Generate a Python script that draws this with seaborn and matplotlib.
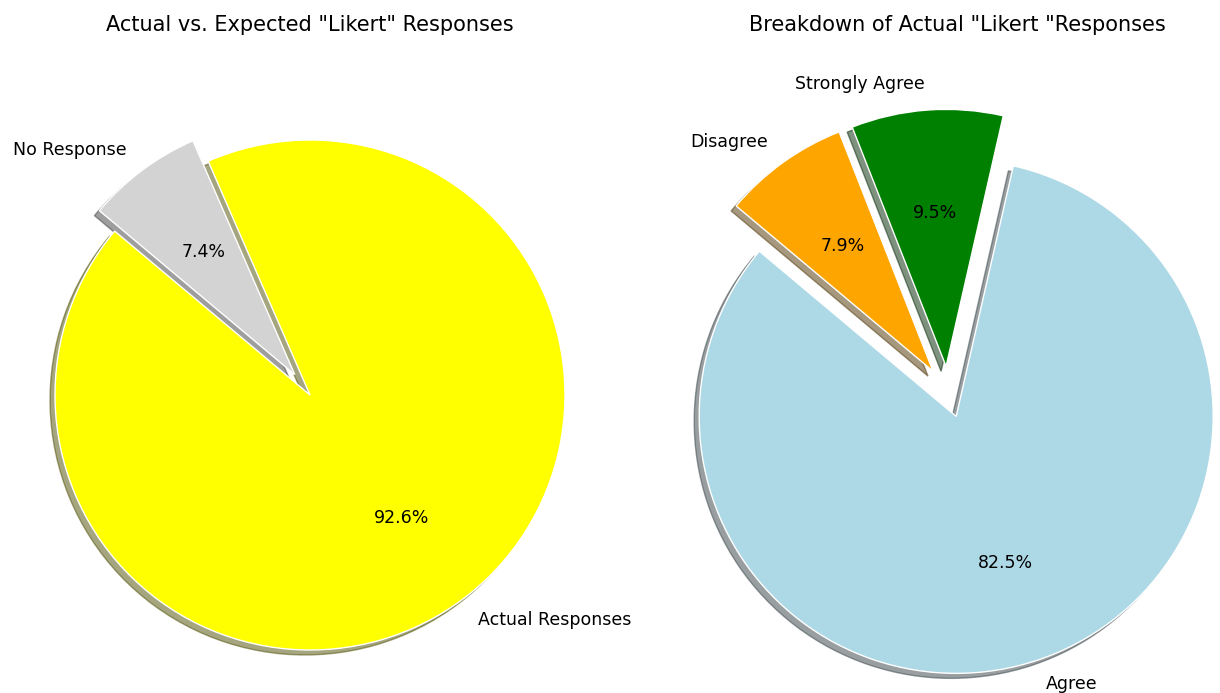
import matplotlib
matplotlib.use("Agg")
import matplotlib.pyplot as plt
import seaborn as sns

sns.set_style("white")
plt.rcParams['font.family'] = ['DejaVu Sans']
plt.rcParams['text.color'] = 'black'

# Data
left_labels = ["Actual Responses", "No Response"]
left_values = [63, 5]
left_colors = ["yellow", "lightgray"]
left_explode = [0, 0.1]

right_labels = ["Agree", "Strongly Agree", "Disagree"]
right_values = [52, 6, 5]
right_colors = ["lightblue", "green", "orange"]
right_explode = [0.1, 0.1, 0.1]

left_title = 'Actual vs. Expected "Likert" Responses'
right_title = 'Breakdown of Actual "Likert "Responses'

W, H = 1220, 693
fig = plt.figure(figsize=(W / 100, H / 100), dpi=100)


def make_ax(x0, x1, cx, cy, r):
    ax = fig.add_axes([x0 / W, 0, (x1 - x0) / W, 1])
    return ax, ((x0 - cx) / r, (x1 - cx) / r), (-(H - cy) / r, cy / r)


fs = 12.5
shadow = {"ox": -0.014, "oy": -0.014}
tp = {"fontsize": fs, "color": "black"}

ax1, xl1, yl1 = make_ax(0, 615, 310, 395, 255)
ax1.pie(left_values, labels=left_labels, colors=left_colors, explode=left_explode,
        autopct="%1.1f%%", shadow=shadow, startangle=140, textprops=tp)
ax1.set_aspect("auto")
ax1.set_xlim(*xl1)
ax1.set_ylim(*yl1)
ax1.axis("off")

ax2, xl2, yl2 = make_ax(615, 1220, 948, 392, 257)
ax2.pie(right_values, labels=right_labels, colors=right_colors, explode=right_explode,
        autopct="%1.1f%%", shadow=shadow, startangle=140, textprops=tp)
ax2.set_aspect("auto")
ax2.set_xlim(*xl2)
ax2.set_ylim(*yl2)
ax2.axis("off")

fig.text(310 / W, 1 - 25 / H, left_title, ha="center", va="center", fontsize=15, color="black")
fig.text(957 / W, 1 - 25 / H, right_title, ha="center", va="center", fontsize=15, color="black")

fig.savefig("out.png", dpi=100)
